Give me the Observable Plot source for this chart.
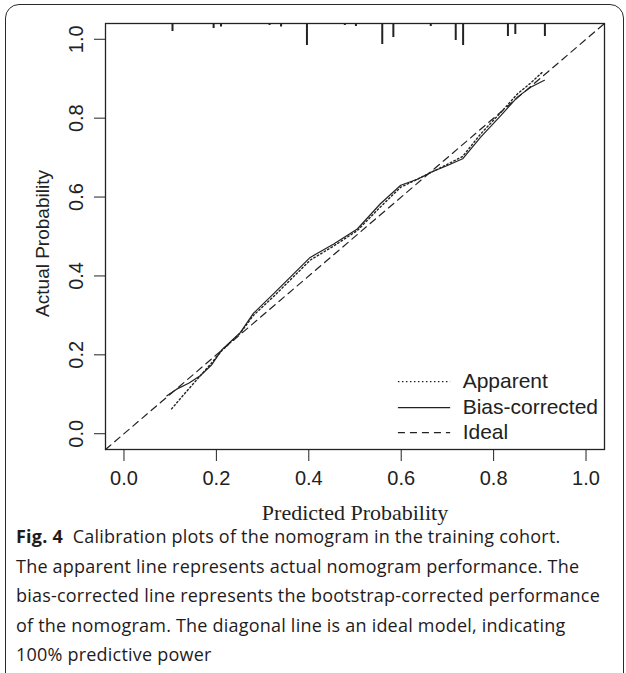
<!DOCTYPE html>
<html><head><meta charset="utf-8">
<script src="https://cdn.jsdelivr.net/npm/d3@7"></script>
<script src="https://cdn.jsdelivr.net/npm/@observablehq/plot@0.6"></script>
<style>
body{margin:0;background:#fff;}
#wrap{position:relative;width:626px;height:673px;overflow:hidden;background:#fff;}
#box{position:absolute;left:5px;top:4px;width:619px;height:720px;border:1.6px solid #2a2a2a;border-radius:14px;box-sizing:border-box;}
#chart{position:absolute;left:0;top:0;}
#caption{position:absolute;left:16px;top:522px;font-family:'Open Sans','Noto Sans',sans-serif;font-size:18px;line-height:29.5px;color:#1f1b1c;white-space:nowrap;}
#caption b{font-weight:700;}
</style>
</head><body>
<div id="wrap"><div id="box"></div><div id="chart"></div><div id="caption"></div></div>
<script>
// ---- data ----
const xTicks = [0, 0.2, 0.4, 0.6, 0.8, 1.0];
const yTicks = [0, 0.2, 0.4, 0.6, 0.8, 1.0];
const apparentX = [0.103,0.13,0.16,0.19,0.212,0.252,0.28,0.324,0.36,0.403,0.454,0.505,0.555,0.599,0.635,0.667,0.70,0.733,0.772,0.816,0.852,0.881,0.906];
const apparentY = [0.063,0.10,0.14,0.18,0.211,0.255,0.30,0.348,0.39,0.44,0.476,0.515,0.575,0.625,0.645,0.664,0.683,0.703,0.76,0.815,0.862,0.89,0.917];
const biasX = [0.093,0.114,0.14,0.165,0.19,0.212,0.252,0.28,0.324,0.36,0.403,0.454,0.505,0.555,0.599,0.635,0.667,0.70,0.733,0.772,0.816,0.852,0.881,0.91];
const biasY = [0.096,0.113,0.128,0.147,0.175,0.213,0.257,0.305,0.355,0.397,0.447,0.481,0.519,0.583,0.630,0.645,0.664,0.68,0.697,0.752,0.807,0.854,0.879,0.896];
const rugX = [0.105,0.194,0.210,0.315,0.340,0.396,0.478,0.502,0.559,0.583,0.664,0.718,0.734,0.831,0.847,0.911];
const rugFreq = [8,5,3.5,2,3.5,22,2,3,21,14,3,17,22,13,11,13];
const legendLabels = ["Apparent","Bias-corrected","Ideal"];
const xLabel = "Predicted Probability";
const yLabel = "Actual Probability";
const captionLines = [
  "<b>Fig. 4</b>&nbsp; Calibration plots of the nomogram in the training cohort.",
  "The apparent line represents actual nomogram performance. The",
  "bias-corrected line represents the bootstrap-corrected performance",
  "of the nomogram. The diagonal line is an ideal model, indicating",
  "100% predictive power"
];

// ---- build ----
const xDom = [-0.04, 1.04], yDom = [-0.04, 1.04];
const apparent = apparentX.map((x,i)=>({x, y: apparentY[i]}));
const bias = biasX.map((x,i)=>({x, y: biasY[i]}));
const ideal = [{x: xDom[0], y: yDom[0]}, {x: xDom[1], y: yDom[1]}];
const maxF = d3.max(rugFreq);
const rug = rugX.map((x,i)=>({x, f: rugFreq[i]}));
const rugLen = 22/394.4; // data units for the longest tick
const legY = [0.132, 0.066, 0.003];
const leg = legendLabels.map((label,i)=>({label, y: legY[i]}));
const lx1 = 0.594, lx2 = 0.707, ltx = 0.733;
const ink = "#222";
const yMid = (yDom[0] + yDom[1]) / 2;

const chart = Plot.plot({
  width: 626, height: 525,
  marginLeft: 105, marginRight: 22, marginTop: 23, marginBottom: 76,
  x: {domain: xDom}, y: {domain: yDom},
  style: {fontFamily: "'Liberation Sans', Arial, sans-serif", fontSize: "20px", color: ink, background: "transparent", overflow: "visible"},
  marks: [
    Plot.line(ideal, {x: "x", y: "y", stroke: ink, strokeWidth: 1.2, strokeDasharray: "7,5"}),
    Plot.line(apparent, {x: "x", y: "y", stroke: ink, strokeWidth: 1.4, strokeDasharray: "1.5,2.5"}),
    Plot.line(bias, {x: "x", y: "y", stroke: ink, strokeWidth: 1.2}),
    Plot.ruleX(rug, {x: "x", y1: yDom[1], y2: d => yDom[1] - d.f / maxF * rugLen, stroke: ink, strokeWidth: 2}),
    Plot.axisX({ticks: xTicks, tickSize: 12, tickPadding: 9, tickFormat: d3.format(".1f"), label: null, stroke: ink}),
    Plot.axisY({ticks: yTicks, tickSize: 11, tickFormat: () => "", label: null, stroke: ink}),
    Plot.text(yTicks, {y: d => d, frameAnchor: "left", dx: -29, rotate: -90, textAnchor: "middle", lineAnchor: "middle", text: d => d3.format(".1f")(d), fill: ink}),
    Plot.frame({stroke: ink, strokeWidth: 1.3}),
    Plot.text([xLabel], {frameAnchor: "bottom", dy: 63, textAnchor: "middle", lineAnchor: "middle", text: d => d, fontFamily: "'Liberation Serif', 'Times New Roman', serif", fontSize: 22, fill: ink}),
    Plot.text([yLabel], {y: yMid, frameAnchor: "left", dx: -63, dy: 7, rotate: -90, textAnchor: "middle", lineAnchor: "middle", text: d => d, fontSize: 19, fill: ink}),
    Plot.ruleY([leg[0]], {y: "y", x1: lx1, x2: lx2, stroke: ink, strokeWidth: 1.4, strokeDasharray: "1.5,2.5"}),
    Plot.ruleY([leg[1]], {y: "y", x1: lx1, x2: lx2, stroke: ink, strokeWidth: 1.2}),
    Plot.ruleY([leg[2]], {y: "y", x1: lx1, x2: lx2, stroke: ink, strokeWidth: 1.2, strokeDasharray: "7,5"}),
    Plot.text(leg, {x: ltx, y: "y", text: "label", textAnchor: "start", lineAnchor: "middle", fontSize: 21, fill: ink})
  ]
});
document.getElementById("chart").appendChild(chart);

// caption
const cap = document.getElementById("caption");
cap.innerHTML = captionLines.join("<br>");
const ctx = document.createElement("canvas").getContext("2d");
ctx.font = "18px 'Open Sans'";
const ref = captionLines[2];
const w = ctx.measureText(ref).width;
const ls = (584 - w) / ref.length;
cap.style.letterSpacing = ls.toFixed(3) + "px";
</script>
</body></html>
